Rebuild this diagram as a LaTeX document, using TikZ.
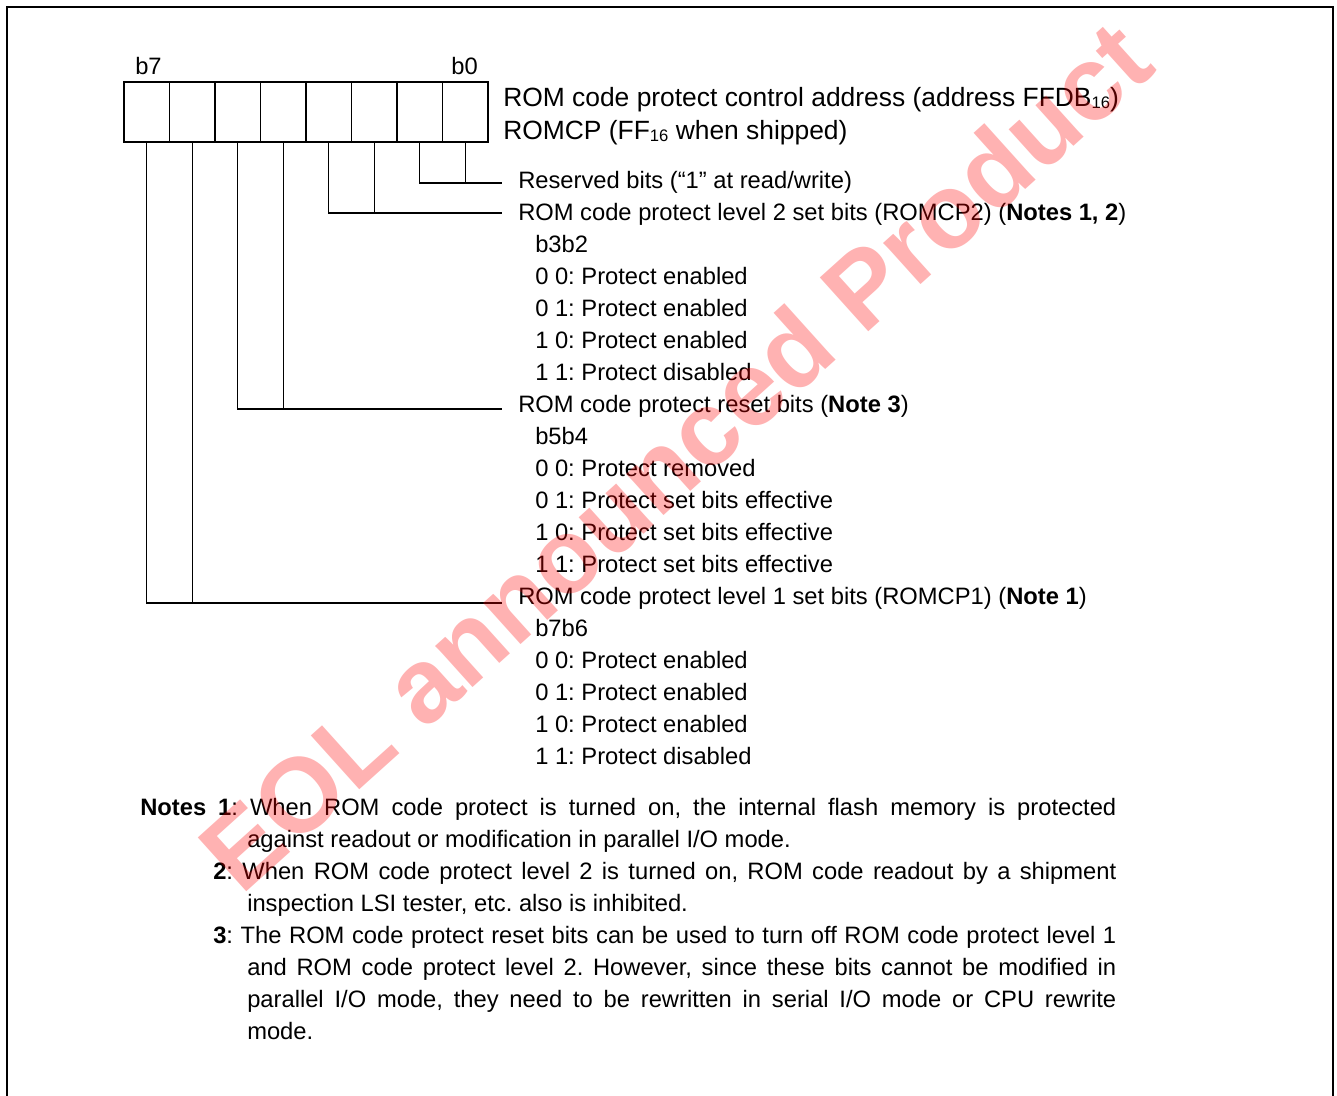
\documentclass[tikz,border=0pt]{standalone}
\usepackage{fontspec}
\setmainfont{Liberation Sans}
\frenchspacing
\newcommand\hexsub{\raisebox{-1.2pt}{\fontsize{12.5pt}{13pt}\selectfont 16}}
\begin{document}
\begin{tikzpicture}[x=0.75pt,y=-0.75pt,
  cell/.style={draw,line width=1.1pt,minimum width=34.125pt,minimum height=45pt,inner sep=0pt,outer sep=0pt,anchor=north west},
  wire/.style={line width=1.1pt},
  lbl/.style={anchor=base west,inner sep=0pt,font=\fontsize{17.8pt}{20pt}\selectfont},
  bitlbl/.style={inner sep=0pt,font=\fontsize{17.8pt}{20pt}\selectfont},
  ttl/.style={anchor=base west,inner sep=0pt,font=\fontsize{19.8pt}{22pt}\selectfont},
  note/.style={anchor=base west,inner sep=0pt,font=\fontsize{17.8pt}{20pt}\selectfont},
  wmark/.style={rotate=42,text=red,opacity=0.3,inner sep=0pt,font=\fontsize{79pt}{80pt}\selectfont\bfseries}
]
\useasboundingbox (0,0) rectangle (1337,1095);
\draw[line width=2pt] (7,1098) -- (7,7) -- (1333,7) -- (1333,1098);

% register cells, c7 leftmost
\foreach \i in {0,...,7} {
  \node[cell] (c\i) at ({124+(7-\i)*45.5},82) {};
}
\node[bitlbl,anchor=base west] (lb7) at (135,75) {b7};
\node[bitlbl,anchor=base east] (lb0) at (478,75) {b0};

\node[ttl] (t1) at (503,107) {ROM code protect control address (address FFDB\hexsub)};
\node[ttl] (t2) at (503,140) {ROMCP (FF\hexsub{} when shipped)};

% field descriptions
\node[lbl] (r0)  at (518,188) {Reserved bits (“1” at read/write)};
\node[lbl] (r1)  at (518,220) {ROM code protect level 2 set bits (ROMCP2) (\textbf{Notes 1, 2})};
\node[lbl] (r2)  at (535,252) {b3b2};
\node[lbl] (r3)  at (535,284) {0 0: Protect enabled};
\node[lbl] (r4)  at (535,316) {0 1: Protect enabled};
\node[lbl] (r5)  at (535,348) {1 0: Protect enabled};
\node[lbl] (r6)  at (535,380) {1 1: Protect disabled};
\node[lbl] (r7)  at (518,412) {ROM code protect reset bits (\textbf{Note 3})};
\node[lbl] (r8)  at (535,444) {b5b4};
\node[lbl] (r9)  at (535,476) {0 0: Protect removed};
\node[lbl] (r10) at (535,508) {0 1: Protect set bits effective};
\node[lbl] (r11) at (535,540) {1 0: Protect set bits effective};
\node[lbl] (r12) at (535,572) {1 1: Protect set bits effective};
\node[lbl] (r13) at (518,604) {ROM code protect level 1 set bits (ROMCP1) (\textbf{Note 1})};
\node[lbl] (r14) at (535,636) {b7b6};
\node[lbl] (r15) at (535,668) {0 0: Protect enabled};
\node[lbl] (r16) at (535,700) {0 1: Protect enabled};
\node[lbl] (r17) at (535,732) {1 0: Protect enabled};
\node[lbl] (r18) at (535,764) {1 1: Protect disabled};

% connector ends
\coordinate (e0) at (502,183);
\coordinate (e1) at (502,213);
\coordinate (e2) at (502,409);
\coordinate (e3) at (502,603);
\draw[wire] (c1.south) |- (e0);
\draw[wire] (c0.south) -- (c0.south |- e0);
\draw[wire] (c3.south) |- (e1);
\draw[wire] (c2.south) -- (c2.south |- e1);
\draw[wire] (c5.south) |- (e2);
\draw[wire] (c4.south) -- (c4.south |- e2);
\draw[wire] (c7.south) |- (e3);
\draw[wire] (c6.south) -- (c6.south |- e3);

% notes
\node[note] (n1a) at (140,815) {\makebox[732pt][s]{\textbf{Notes 1}: When ROM code protect is turned on, the internal flash memory is protected}};
\node[note] (n1b) at (247,847) {against readout or modification in parallel I/O mode.};
\node[note] (n2a) at (213,879) {\makebox[677.25pt][s]{\textbf{2}: When ROM code protect level 2 is turned on, ROM code readout by a shipment}};
\node[note] (n2b) at (247,911) {inspection LSI tester, etc. also is inhibited.};
\node[note] (n3a) at (213,943) {\makebox[677.25pt][s]{\textbf{3}: The ROM code protect reset bits can be used to turn off ROM code protect level 1}};
\node[note] (n3b) at (247,975) {\makebox[651.75pt][s]{and ROM code protect level 2. However, since these bits cannot be modified in}};
\node[note] (n3c) at (247,1007) {\makebox[651.75pt][s]{parallel I/O mode, they need to be rewritten in serial I/O mode or CPU rewrite}};
\node[note] (n3d) at (247,1039) {mode.};

% watermark
\node[wmark] (wm) at (675,455) {EOL announced Product};
\end{tikzpicture}
\end{document}
